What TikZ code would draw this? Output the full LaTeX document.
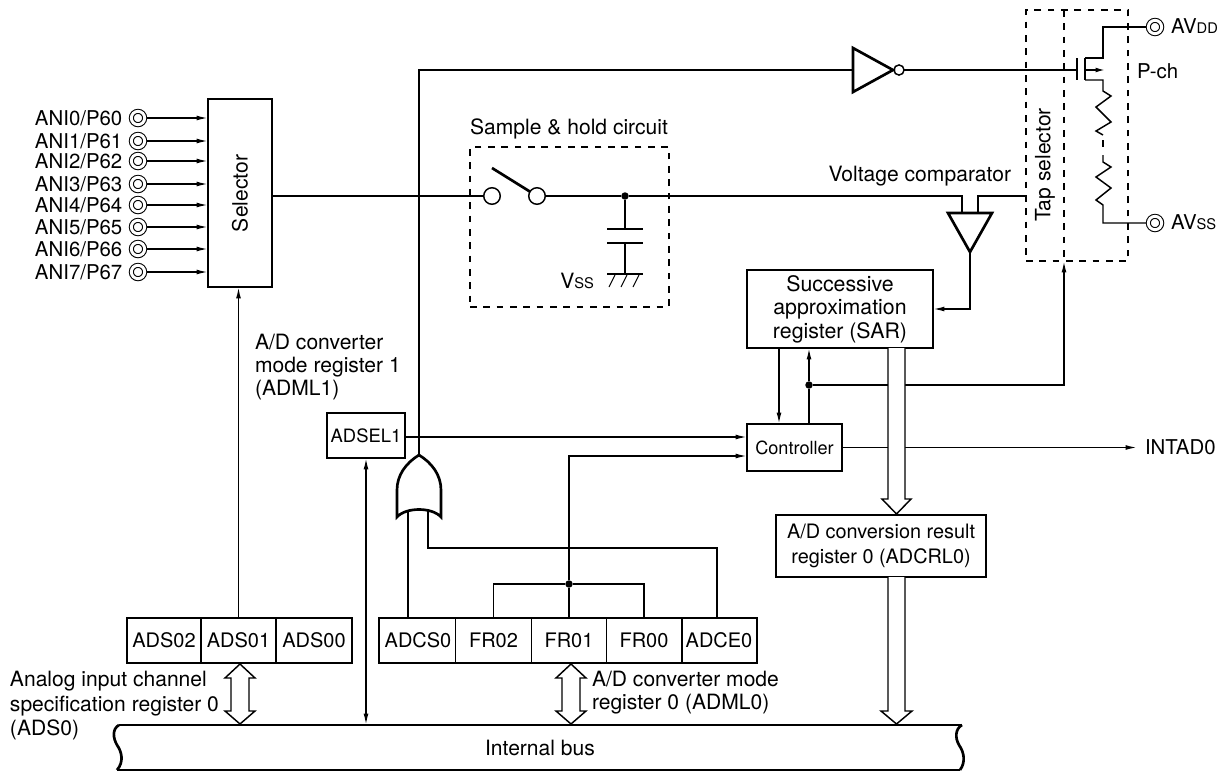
\documentclass[tikz,border=0pt]{standalone}
\usepackage{fontspec}
\setmainfont{TeX Gyre Heros}
\usetikzlibrary{arrows.meta}
\def\px{.75pt}
\newcommand{\subtxt}[1]{{\fontsize{11}{12}\selectfont #1}}
\tikzset{
  wire/.style={line width=1.1pt},
  arr/.style={wire,-{Latex[length=8.5pt,width=3.6pt]}},
  arrboth/.style={wire,{Latex[length=8.5pt,width=3.6pt]}-{Latex[length=8.5pt,width=3.6pt]}},
  heavy/.style={line width=2pt},
  wide/.style={line width=1.1pt,fill=white},
  regbox/.style={draw,heavy,rectangle,inner sep=0pt,outer sep=0pt,align=center},
  dashbox/.style={draw,line width=2pt,dash pattern=on 5pt off 5pt,rectangle,inner sep=0pt,outer sep=0pt},
  cell/.style={rectangle,inner sep=0pt,outer sep=0pt,minimum height=45*\px,font=\fontsize{15}{17}\selectfont},
  txt/.style={inner sep=0pt,outer sep=0pt,font=\fontsize{15.8}{17.4}\selectfont,align=left},
  anitxt/.style={txt,anchor=west,font=\fontsize{15.3}{17}\selectfont},
  term/.style={circle,draw,line width=.8pt,double,double distance=2.2pt,minimum size=10pt,inner sep=0pt,outer sep=1.5pt},
  joint/.style={circle,fill=black,minimum size=5.6pt,inner sep=0pt,outer sep=0pt},
  swnode/.style={circle,draw,wire,fill=white,minimum size=12.4pt,inner sep=0pt,outer sep=0pt},
  bubble/.style={circle,draw,wire,fill=white,minimum size=7.6pt,inner sep=0pt,outer sep=0pt}
}
\begin{document}
\begin{tikzpicture}[x=.75pt,y=-.75pt]
\path[use as bounding box] (0,0) rectangle (1222,772);
\node[regbox,minimum width=64*\px,minimum height=188*\px] (selector) at (240,193) {};
\node[txt,rotate=90] (selectortxt) at (240,193.5) {Selector};
\node[anitxt] (ani0) at (35,118) {ANI0/P60};
\node[anitxt] (ani1) at (35,141) {ANI1/P61};
\node[anitxt] (ani2) at (35,161) {ANI2/P62};
\node[anitxt] (ani3) at (35,184) {ANI3/P63};
\node[anitxt] (ani4) at (35,205) {ANI4/P64};
\node[anitxt] (ani5) at (35,227) {ANI5/P65};
\node[anitxt] (ani6) at (35,249) {ANI6/P66};
\node[anitxt] (ani7) at (35,272) {ANI7/P67};
\node[term] (pin0) at (138,118) {};
\node[term] (pin1) at (138,141) {};
\node[term] (pin2) at (138,161) {};
\node[term] (pin3) at (138,184) {};
\node[term] (pin4) at (138,205) {};
\node[term] (pin5) at (138,227) {};
\node[term] (pin6) at (138,249) {};
\node[term] (pin7) at (138,272) {};
\draw[arr] (pin0) -- (pin0 -| selector.west);
\draw[arr] (pin1) -- (pin1 -| selector.west);
\draw[arr] (pin2) -- (pin2 -| selector.west);
\draw[arr] (pin3) -- (pin3 -| selector.west);
\draw[arr] (pin4) -- (pin4 -| selector.west);
\draw[arr] (pin5) -- (pin5 -| selector.west);
\draw[arr] (pin6) -- (pin6 -| selector.west);
\draw[arr] (pin7) -- (pin7 -| selector.west);
\node[dashbox,minimum width=199*\px,minimum height=160*\px] (shbox) at (569.5,227) {};
\node[txt] (shtxt) at (569,129) {Sample \& hold circuit};
\node[swnode] (swa) at (492,196) {};
\node[swnode] (swb) at (537,196) {};
\coordinate (swtop) at (492,168);
\node[joint] (capjoint) at (625,196) {};
\coordinate (capa) at (625,229);
\coordinate (capb) at (625,243);
\coordinate (capgnd) at (625,274);
\draw[wire] (swa -| selector.east) -- (swa);
\draw[heavy] (swtop) -- (swb);
\draw[wire] (swb) -- (capjoint);
\draw[wire] (capjoint) -- (capa);
\draw[wire] (capb) -- (capgnd);
\draw[heavy] (607,229) -- (643,229);
\draw[heavy] (607,243) -- (643,243);
\draw[heavy] (607,274) -- (643,274);
\draw[line width=.7pt] (615,275) -- (609,287) (627,275) -- (621,287) (639,275) -- (633,287);
\node[txt,anchor=east] (vss) at (594,281) {V\subtxt{SS}};
\coordinate (cmpa) at (962,213);
\coordinate (cmpb) at (978,213);
\coordinate (cmpout) at (970,252);
\draw[heavy,line join=miter] (948,213) -- (992,213) -- (cmpout) -- cycle;
\coordinate (tapin) at (1027,196);
\draw[wire] (capjoint) -| (cmpa);
\draw[wire] (cmpb) |- (tapin);
\node[txt,anchor=east] (cmptxt) at (1011,176) {Voltage comparator};
\node[dashbox,minimum width=102*\px,minimum height=251*\px] (tapbox) at (1077,135.5) {};
\draw[line width=2pt,dash pattern=on 5pt off 5pt] (tapbox.north -| 1064,0) -- (tapbox.south -| 1064,0);
\node[txt,rotate=90] (taptxt) at (1045,165) {Tap selector};
\node[regbox,minimum width=186*\px,minimum height=78*\px,font=\fontsize{16}{17.6}\selectfont] (sar) at (840,309) {Successive\\approximation\\register (SAR)};
\node[regbox,minimum width=95*\px,minimum height=47*\px,font=\fontsize{13.6}{16}\selectfont] (ctrl) at (794.5,447.5) {Controller};
\node[regbox,minimum width=210*\px,minimum height=62*\px,font=\fontsize{14.9}{18.6}\selectfont] (adcrl) at (881,546) {A/D conversion result\\register 0 (ADCRL0)};
\draw[arr] (cmpout) |- (sar.east);
\coordinate (sarout) at (779,348);
\coordinate (ctrlin) at (779,424);
\coordinate (ctrlout) at (809,424);
\coordinate (sarin) at (809,348);
\node[joint] (tapjoint) at (809,385) {};
\coordinate (tapfoot) at (1064,261);
\coordinate (intout) at (1137,447.5);
\draw[arr] (sarout) -- (ctrlin);
\draw[wire] (ctrlout) -- (tapjoint);
\draw[arr] (tapjoint) -- (sarin);
\draw[arr] (tapjoint) -| (tapfoot);
\draw[arr] (ctrl.east) -- (intout);
\node[anitxt] (intad) at (1145,447.5) {INTAD0};
\coordinate (sarbus) at (896.5,348);
\coordinate (adcrlbus) at (896.5,577);
\draw[wide] (sarbus) ++(-8.5,0) -- ++(0,151) -- ++(-6,0) -- ++(14.5,15) -- ++(14.5,-15) -- ++(-6,0) -- ++(0,-151);
\draw[wide] (adcrlbus) ++(-8.5,0) -- ++(0,134) -- ++(-7,0) -- ++(15.5,13) -- ++(15.5,-13) -- ++(-7,0) -- ++(0,-134);
\node[txt,anchor=north west] (adml1txt) at (255,334) {A/D converter\\mode register 1\\(ADML1)};
\node[regbox,minimum width=78*\px,minimum height=45*\px,font=\fontsize{13.8}{16}\selectfont] (adsel) at (366,435.5) {ADSEL1};
\node[regbox,minimum width=225*\px,minimum height=45*\px] (adsreg) at (239.5,640.5) {};
\node[cell,minimum width=74*\px] (ads02) at (164,640.5) {ADS02};
\node[cell,minimum width=75*\px] (ads01) at (238.5,640.5) {ADS01};
\node[cell,minimum width=76*\px] (ads00) at (314,640.5) {ADS00};
\draw[wire] (ads02.north east) -- (ads02.south east);
\draw[wire] (ads01.north east) -- (ads01.south east);
\draw[arr] (ads01.north) -- (ads01.north |- selector.south);
\node[regbox,minimum width=378*\px,minimum height=45*\px] (admlreg) at (568,640.5) {};
\node[cell,minimum width=75*\px] (adcs) at (418,640.5) {ADCS0};
\node[cell,minimum width=76*\px] (fr02) at (493.5,640.5) {FR02};
\node[cell,minimum width=75*\px] (fr01) at (569,640.5) {FR01};
\node[cell,minimum width=76*\px] (fr00) at (644,640.5) {FR00};
\node[cell,minimum width=74*\px] (adce) at (719,640.5) {ADCE0};
\draw[wire] (adcs.north east) -- (adcs.south east);
\draw[wire] (fr02.north east) -- (fr02.south east);
\draw[wire] (fr01.north east) -- (fr01.south east);
\draw[wire] (fr00.north east) -- (fr00.south east);
\coordinate (orina) at (408,511);
\coordinate (orinb) at (428,511);
\coordinate (orout) at (419,455);
\coordinate (orrun) at (717,548);
\node[joint] (frjoint) at (569,584) {};
\draw[heavy,line join=miter] (397,517) .. controls (406,507) and (432,507) .. (441,517) -- (441,490) .. controls (441,475) and (432,463) .. (orout) .. controls (406,463) and (397,475) .. (397,490) -- cycle;
\draw[wire] (orina |- adcs.north) -- (orina);
\draw[wire] (orinb) |- (orrun) -- (orrun |- adce.north);
\draw[wire] (fr01.north -| frjoint) -- (frjoint);
\draw[wire] (fr02.north) |- (frjoint);
\draw[wire] (fr00.north) |- (frjoint);
\coordinate (ctrlfr) at (747,456);
\draw[arr] (frjoint) |- (ctrlfr);
\coordinate (adselout) at (747,437);
\draw[arr] (adselout -| adsel.east) -- (adselout);
\coordinate (invin) at (853,70);
\coordinate (invout) at (893,70);
\node[bubble] (invbub) at (899,70) {};
\draw[wire] (orout) |- (invin);
\draw[heavy,line join=miter] (invin) ++(0,-22) -- (invout) -- (853,92) -- cycle;
\coordinate (gate) at (1077,70);
\draw[wire] (invbub) -- (gate);
\draw[heavy] (1077,58) -- (1077,80);
\draw[heavy] (1085,58) -- (1085,80);
\node[term] (avdd) at (1155,27) {};
\node[term] (avss) at (1155,223) {};
\draw[wire] (1085,58) -- (1103,58) |- (avdd);
\draw[wire,-{Latex[length=7pt,width=3.6pt]}] (1085,70) -- (1105,70);
\draw[wire] (1085,80) -- (1103,80) -- (1103,91) -- (1111,96) -- (1096,107) -- (1111,122) -- (1096,131) -- (1103,135);
\draw[wire] (1103,140) -- (1103,147);
\draw[wire] (1103,155) -- (1103,162) -- (1111,167) -- (1096,177) -- (1111,188) -- (1096,200) -- (1103,205) |- (avss);
\node[anitxt] (avddtxt) at (1171,26) {AV\subtxt{DD}};
\node[anitxt] (avsstxt) at (1171,222) {AV\subtxt{SS}};
\node[anitxt] (pchtxt) at (1137,71) {P-ch};
\draw[heavy] (119,725) -- (962,725);
\draw[heavy] (117,770) -- (960,770);
\draw[heavy] (119,725) .. controls (112,729) and (113,738) .. (117,745) .. controls (122,752) and (124,762) .. (117,770);
\draw[heavy] (962,725) .. controls (955,729) and (955,738) .. (959,745) .. controls (964,752) and (966,762) .. (960,770);
\node[txt] (bustxt) at (540,748) {Internal bus};
\coordinate (bustop) at (540,725);
\draw[arrboth] (adsel.south) -- (adsel.south |- bustop);
\coordinate (adsbus) at (240,664);
\coordinate (admlbus) at (571,664);
\draw[wide] (adsbus) -- ++(15,14) -- ++(-6,0) -- ++(0,33) -- ++(6,0) -- ++(-15,13) -- ++(-15,-13) -- ++(6,0) -- ++(0,-33) -- ++(-6,0) -- cycle;
\draw[wide] (admlbus) -- ++(15,14) -- ++(-6,0) -- ++(0,33) -- ++(6,0) -- ++(-15,13) -- ++(-15,-13) -- ++(6,0) -- ++(0,-33) -- ++(-6,0) -- cycle;
\node[txt,anchor=north west,font=\fontsize{15.8}{18.6}\selectfont] (ads0txt) at (10,671) {Analog input channel\\specification register 0\\(ADS0)};
\node[txt,anchor=north west] (adml0txt) at (592,671) {A/D converter mode\\register 0 (ADML0)};
\end{tikzpicture}
\end{document}
